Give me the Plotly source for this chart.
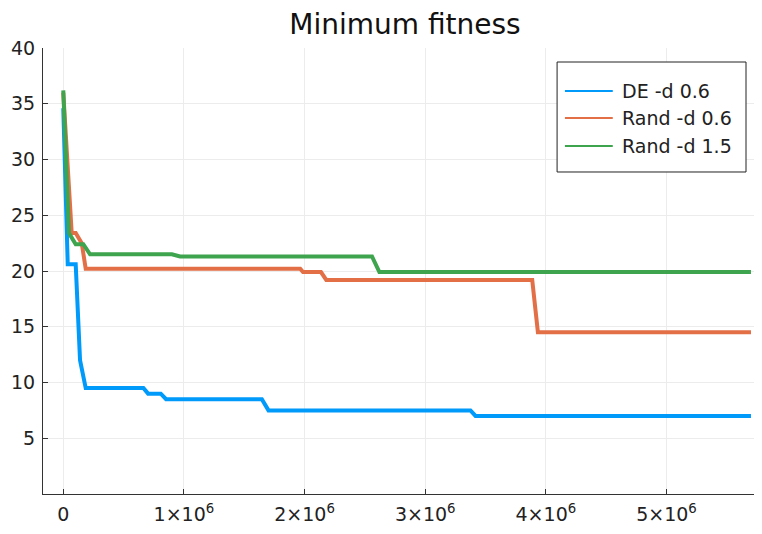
import plotly.graph_objects as go

# Series data (x in evaluations, y = minimum fitness)
de_x = [0, 0.037e6, 0.103e6, 0.139e6, 0.186e6, 0.664e6, 0.703e6, 0.808e6, 0.852e6,
        1.646e6, 1.701e6, 3.375e6, 3.417e6, 5.70e6]
de_y = [34.6, 20.6, 20.6, 12.0, 9.5, 9.5, 9.0, 9.0, 8.5,
        8.5, 7.5, 7.5, 7.0, 7.0]

rand06_x = [0, 0.07e6, 0.103e6, 0.153e6, 0.186e6, 1.964e6, 1.987e6, 2.136e6, 2.18e6,
            3.887e6, 3.934e6, 5.70e6]
rand06_y = [36.0, 23.4, 23.4, 22.5, 20.2, 20.2, 19.9, 19.9, 19.2,
            19.2, 14.5, 14.5]

rand15_x = [0, 0.047e6, 0.103e6, 0.166e6, 0.222e6, 0.90e6, 0.968e6, 2.559e6, 2.62e6, 5.70e6]
rand15_y = [36.2, 23.4, 22.4, 22.4, 21.5, 21.5, 21.3, 21.3, 19.9, 19.9]

series_names = ["DE -d 0.6", "Rand -d 0.6", "Rand -d 1.5"]
series_colors = ["#009AFA", "#E36F47", "#3EA44E"]

x_tick_vals = [0, 1e6, 2e6, 3e6, 4e6, 5e6]
x_tick_text = ["0", "1×10<sup>6</sup>", "2×10<sup>6</sup>", "3×10<sup>6</sup>",
               "4×10<sup>6</sup>", "5×10<sup>6</sup>"]
y_tick_vals = [5, 10, 15, 20, 25, 30, 35, 40]

fig = go.Figure()
for xs, ys, name, col in zip([de_x, rand06_x, rand15_x], [de_y, rand06_y, rand15_y],
                             series_names, series_colors):
    fig.add_trace(go.Scatter(x=xs, y=ys, mode="lines", name=name, showlegend=False,
                             line=dict(color=col, width=4)))

font_family = "DejaVu Sans"

# Legend drawn in paper coordinates (box, thin sample lines, labels)
box = dict(x0=0.720, x1=0.9846, y0=0.722, y1=0.9686)
entry_y = [0.9036, 0.843, 0.780]
shapes = [dict(type="rect", xref="paper", yref="paper", **box,
               line=dict(color="#222222", width=1), fillcolor="white", layer="above")]
annotations = []
for name, col, yy in zip(series_names, series_colors, entry_y):
    shapes.append(dict(type="line", xref="paper", yref="paper", x0=0.731, x1=0.798,
                       y0=yy, y1=yy, line=dict(color=col, width=2), layer="above"))
    annotations.append(dict(xref="paper", yref="paper", x=0.808, y=yy, text=name,
                            showarrow=False, xanchor="left", yanchor="middle",
                            font=dict(size=19, family=font_family, color="#222222")))

fig.update_layout(
    width=754, height=526,
    margin=dict(l=35, r=5, t=40, b=40, autoexpand=False),
    paper_bgcolor="white", plot_bgcolor="white",
    font=dict(family=font_family, color="#222222"),
    title=dict(text="Minimum fitness", x=0.5265, xanchor="center", y=0.9696, yanchor="middle",
               automargin=False,
               font=dict(size=28, family=font_family, color="#111111")),
    showlegend=False,
    shapes=shapes,
    annotations=annotations,
    xaxis=dict(range=[-0.168e6, 5.75e6], tickvals=x_tick_vals, ticktext=x_tick_text,
               automargin=False,
               showgrid=True, gridcolor="#ececec", gridwidth=1, zeroline=False,
               showline=True, linecolor="#333333", linewidth=1.2,
               ticks="inside", ticklen=5, tickcolor="#333333", ticklabelstandoff=3,
               tickfont=dict(size=19, family=font_family)),
    yaxis=dict(range=[0, 40], tickvals=y_tick_vals, automargin=False,
               showgrid=True, gridcolor="#ececec", gridwidth=1, zeroline=False,
               showline=True, linecolor="#333333", linewidth=1.2,
               ticks="inside", ticklen=5, tickcolor="#333333", ticklabelstandoff=3,
               tickfont=dict(size=19, family=font_family)),
)

fig.write_html("out.html")
